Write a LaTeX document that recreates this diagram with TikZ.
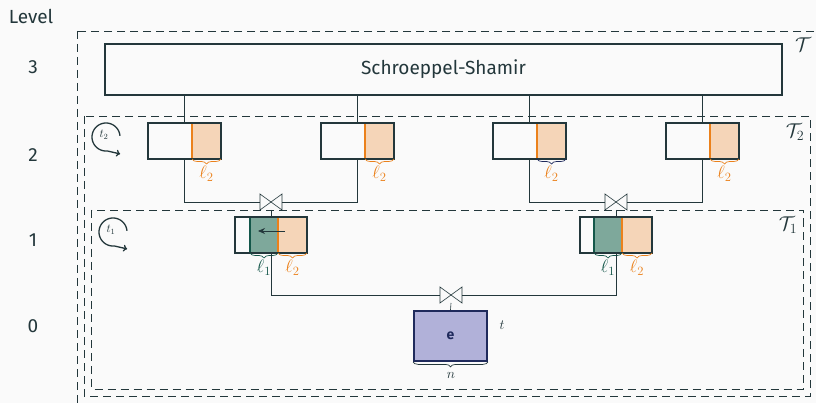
\documentclass[tikz,border=0pt]{standalone}
\usepackage{fontspec}
\setmainfont{Fira Sans}
\usepackage{fix-cm}
\usetikzlibrary{decorations.pathreplacing,arrows.meta,calc}
\definecolor{slate}{HTML}{23373B}
\definecolor{morange}{HTML}{EB811B}
\definecolor{orfill}{HTML}{F5D5B8}
\definecolor{mgreen}{HTML}{14574A}
\definecolor{grfill}{HTML}{7EA89B}
\definecolor{pufill}{HTML}{B1B1D9}
\definecolor{navy}{HTML}{1F2A5C}
\definecolor{bgc}{HTML}{FAFAFA}
\tikzset{
 wire/.style={draw=slate, line width=0.6pt},
 framebox/.style={draw=slate, dash pattern=on 8pt off 5pt, line width=0.6pt},
 boxline/.style={draw=slate, line width=1.8pt},
 part/.style={rectangle, inner sep=0pt, outer sep=0pt, minimum height=36pt, anchor=north west},
 joinsym/.style={rectangle, inner sep=0pt, outer sep=2pt, minimum width=18pt, minimum height=12pt},
 brc/.style={decorate, decoration={brace, mirror, amplitude=5pt}, line width=0.7pt},
 lbl/.style={font=\fontsize{18}{20}\selectfont, inner sep=0pt},
 tlbl/.style={font=\fontsize{20}{22}\selectfont, inner sep=0pt, text=slate},
 big/.style={font=\fontsize{19}{22}\selectfont, text=slate},
 small/.style={font=\fontsize{14}{16}\selectfont, inner sep=0pt},
 iconlbl/.style={font=\fontsize{12}{14}\selectfont, inner sep=0pt, text=slate},
 cyc/.style={slate, line width=1.3pt, -{To[length=4pt,width=7pt]}},
}
\newcommand{\bowdraw}[1]{\draw[slate, line width=0.6pt] (#1.north west) -- (#1.south west) -- (#1.north east) -- (#1.south east) -- cycle;}
\newcommand{\cycicon}[2]{\draw[cyc] plot[domain=5:275, samples=60, smooth] ({#1+14*cos(\x)}, {#2-14*sin(\x)}) -- ++(13,3);}
\begin{document}
\begin{tikzpicture}[x=1pt, y={(0pt,-1pt)}]
\clip (0,0) rectangle (816,403);
\fill[bgc] (0,0) rectangle (816,403);

% level labels
\node[big] (lv) at (31,16) {Level};
\node[big] (l3) at (33,67) {3};
\node[big] (l2) at (33,155) {2};
\node[big] (l1) at (33,240) {1};
\node[big] (l0) at (33,326) {0};

% dashed frames
\draw[framebox] (77,31) rectangle (830,420);
\draw[framebox] (84,116) rectangle (810,396);
\draw[framebox] (91.5,210) rectangle (803,389);
\node[tlbl] (tT) at (803,45) {$\mathcal{T}$};
\node[tlbl] (tT2) at (795,132) {$\mathcal{T}_2$};
\node[tlbl] (tT1) at (788,225) {$\mathcal{T}_1$};

% cycle icons
\node[iconlbl] (cy2) at (104,135) {$t_2$};
\cycicon{106}{137}
\node[iconlbl] (cy1) at (111,230) {$t_1$};
\cycicon{113}{232}

% Schroeppel-Shamir
\node[boxline, rectangle, minimum width=677pt, minimum height=51pt, inner sep=0pt, big] (ss) at (443.5,69.5) {Schroeppel-Shamir};

% level 2 boxes
\foreach \i/\x in {1/148, 2/321, 3/493, 4/666}{
  \node[part, minimum width=44pt] (w\i) at (\x,123) {};
  \node[part, minimum width=29pt, fill=orfill] (o\i) at (w\i.north east) {};
  \draw[morange, line width=1.6pt] (o\i.north west) -- (o\i.south west);
  \draw[boxline] (w\i.north west) rectangle (o\i.south east);
  \coordinate (c\i) at ($(w\i.north east)+(-8,0)$);
  \draw[wire] (c\i) -- (c\i |- ss.south);
}
\draw[brc, morange] (o1.south west) -- (o1.south east);
\draw[brc, morange] (o2.south west) -- (o2.south east);
\draw[brc, navy] (o3.south west) -- (o3.south east);
\draw[brc, morange] (o4.south west) -- (o4.south east);
\foreach \i in {1,2,3,4}{
  \node[lbl, text=morange] (lab\i) at ($(o\i.south)+(0,15)$) {$\ell_2$};
}

% joins level 2 -> 1
\node[joinsym] (j1) at (271,202) {};
\bowdraw{j1}
\node[joinsym] (j2) at (616,202) {};
\bowdraw{j2}
\draw[wire] (c1 |- w1.south) |- (j1.west);
\draw[wire] (c2 |- w2.south) |- (j1.east);
\draw[wire] (c3 |- w3.south) |- (j2.west);
\draw[wire] (c4 |- w4.south) |- (j2.east);

% level 1 boxes
\node[part, minimum width=15pt] (v1) at (235,217) {};
\node[part, minimum width=28pt, fill=grfill] (g1) at (v1.north east) {};
\node[part, minimum width=29pt, fill=orfill] (p1) at (g1.north east) {};
\node[part, minimum width=14pt] (v2) at (580,217) {};
\node[part, minimum width=28pt, fill=grfill] (g2) at (v2.north east) {};
\node[part, minimum width=30pt, fill=orfill] (p2) at (g2.north east) {};
\foreach \i in {1,2}{
  \draw[mgreen, line width=1.6pt] (g\i.north west) -- (g\i.south west);
  \draw[morange, line width=1.6pt] (p\i.north west) -- (p\i.south west);
  \draw[boxline] (v\i.north west) rectangle (p\i.south east);
  \draw[brc, mgreen] (g\i.south west) -- (g\i.south east);
  \draw[brc, morange] (p\i.south west) -- (p\i.south east);
  \node[lbl, text=mgreen] (m\i) at ($(g\i.south)+(0,15)$) {$\ell_1$};
  \node[lbl, text=morange] (n\i) at ($(p\i.south)+(0,15)$) {$\ell_2$};
}
\draw[slate, line width=0.8pt, -{Stealth[length=7pt,width=6pt]}] ($(p1.west)+(7,-4)$) -- ($(g1.west)+(8,-4)$);
\draw[wire] (j1.south) -- (j1 |- g1.north);
\draw[wire] (j2.south) -- (j2 |- g2.north);

% join level 1 -> 0
\node[joinsym] (j3) at (451,295) {};
\bowdraw{j3}
\draw[wire] (j1 |- g1.south) |- (j3.west);
\draw[wire] (j2 |- g2.south) |- (j3.east);

% e box
\node[rectangle, fill=pufill, draw=navy, line width=1.8pt, minimum width=73pt, minimum height=50pt, inner sep=0pt, text=navy, font=\fontsize{14}{16}\selectfont\bfseries] (e) at (450.5,336) {e};
\draw[wire] (j3.south) -- (e.north);
\draw[brc, slate] (e.south west) -- (e.south east);
\node[small, text=slate] (tl) at (502,325) {$t$};
\node[small, text=slate] (nl) at (451,375) {$n$};
\end{tikzpicture}
\end{document}
